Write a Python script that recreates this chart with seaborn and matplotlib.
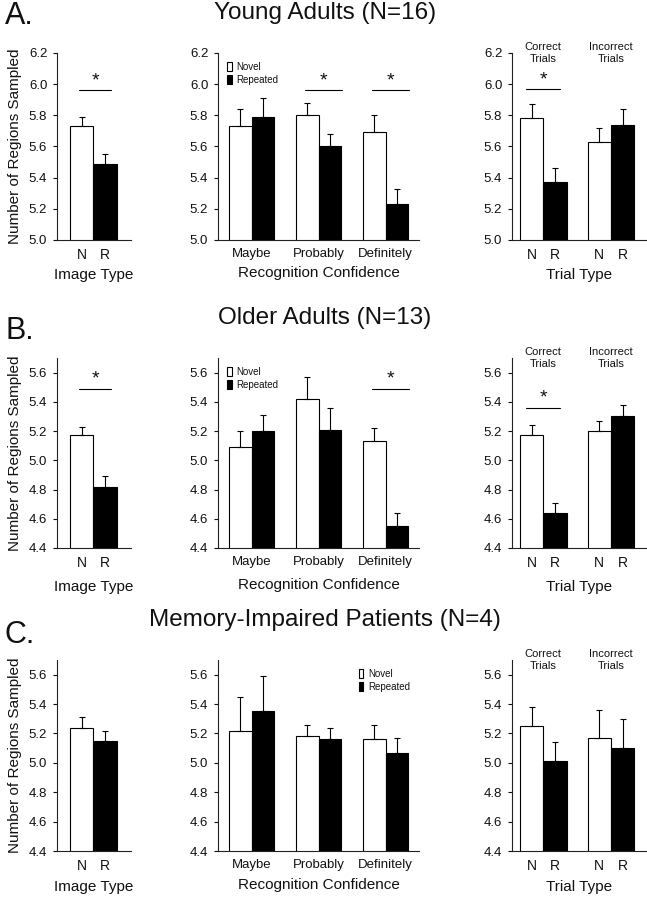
import matplotlib
matplotlib.use('Agg')
import matplotlib.pyplot as plt
from matplotlib.container import BarContainer
from matplotlib.patches import Patch
import pandas as pd
import seaborn as sns

# ---- data (means and upward SEM) ----
row_titles = ['Young Adults (N=16)', 'Older Adults (N=13)', 'Memory-Impaired Patients (N=4)']
row_letters = ['A.', 'B.', 'C.']
row_ylims = [(5.0, 6.2), (4.4, 5.7), (4.4, 5.7)]
row_yticks = [[5.0, 5.2, 5.4, 5.6, 5.8, 6.0, 6.2],
              [4.4, 4.6, 4.8, 5.0, 5.2, 5.4, 5.6],
              [4.4, 4.6, 4.8, 5.0, 5.2, 5.4, 5.6]]

image_types = ['N', 'R']
image_mean = [[5.73, 5.49], [5.17, 4.82], [5.24, 5.15]]
image_sem = [[0.06, 0.06], [0.06, 0.07], [0.07, 0.07]]
image_sig = [True, True, False]

confidence = ['Maybe', 'Probably', 'Definitely']
conf_novel = [[5.73, 5.80, 5.69], [5.09, 5.42, 5.13], [5.22, 5.18, 5.16]]
conf_novel_sem = [[0.11, 0.08, 0.11], [0.11, 0.15, 0.09], [0.23, 0.08, 0.10]]
conf_repeated = [[5.79, 5.60, 5.23], [5.20, 5.21, 4.55], [5.35, 5.16, 5.07]]
conf_repeated_sem = [[0.12, 0.08, 0.10], [0.11, 0.15, 0.09], [0.24, 0.08, 0.10]]
conf_sig = [[False, True, True], [False, False, True], [False, False, False]]

trials = ['Correct\nTrials', 'Incorrect\nTrials']
trial_novel = [[5.78, 5.63], [5.17, 5.20], [5.25, 5.17]]
trial_novel_sem = [[0.09, 0.09], [0.07, 0.07], [0.13, 0.19]]
trial_repeated = [[5.37, 5.74], [4.64, 5.30], [5.01, 5.10]]
trial_repeated_sem = [[0.09, 0.10], [0.07, 0.08], [0.13, 0.20]]
trial_sig = [[True, False], [True, False], [False, False]]

sig_height = [5.96, 5.49, None]
trial_sig_height = [5.97, 5.36, None]
legend_loc = ['upper left', 'upper left', 'upper right']

# ---- style ----
sns.set_style('ticks')
plt.rcParams['font.family'] = ['Liberation Sans', 'DejaVu Sans']
plt.rcParams['text.color'] = '#111111'
plt.rcParams['axes.labelcolor'] = '#111111'
plt.rcParams['xtick.color'] = '#111111'
plt.rcParams['ytick.color'] = '#111111'

W, H = 647, 899
fig = plt.figure(figsize=(W / 100, H / 100), dpi=100)
palette = {'N': 'white', 'R': 'black', 'Novel': 'white', 'Repeated': 'black'}


def box(x0, x1, ytop, ybot):
    return [x0 / W, 1 - ybot / H, (x1 - x0) / W, (ybot - ytop) / H]


def bar_containers(ax):
    return [c for c in ax.containers if isinstance(c, BarContainer)]


def add_errorbars(ax, sems):
    # bar containers come in hue order, one per hue level
    for cont, s in zip(bar_containers(ax), sems):
        xs = [b.get_x() + b.get_width() / 2 for b in cont]
        ys = [b.get_height() for b in cont]
        ax.errorbar(xs, ys, yerr=[[0] * len(s), s], fmt='none', ecolor='black',
                    elinewidth=0.8, capsize=2.5, capthick=0.8, zorder=1)


def sig_mark(ax, x_left, x_right, y):
    ax.plot([x_left, x_right], [y, y], color='black', lw=0.8, clip_on=False)
    ax.text((x_left + x_right) / 2, y + 0.005, '*', ha='center', va='bottom',
            fontsize=14, clip_on=False)


def style_axes(ax, r):
    ax.set_ylim(*row_ylims[r])
    ax.set_yticks(row_yticks[r])
    ax.set_yticklabels([f'{t:.1f}' for t in row_yticks[r]], fontsize=9.5)
    sns.despine(ax=ax)
    for sp in ['left', 'bottom']:
        ax.spines[sp].set_linewidth(0.8)
        ax.spines[sp].set_color('#222222')
    ax.tick_params(axis='y', length=3, width=0.8, pad=4)
    ax.tick_params(axis='x', length=0, pad=6)
    ax.set_facecolor('white')


# row geometry in pixels: (top of axis, bottom of axis)
rows_px = [(53, 240), (358, 548), (660, 851)]
title_y = [13, 318, 620]
letter_y = [16, 331, 635]
xlabel_pad = [4, 7, 5]

for r in range(3):
    ytop, ybot = rows_px[r]

    # --- Image type panel ---
    ax1 = fig.add_axes(box(57, 131, ytop, ybot))
    df1 = pd.DataFrame({'type': image_types, 'mean': image_mean[r]})
    sns.barplot(data=df1, x='type', y='mean', hue='type', palette=palette,
                edgecolor='black', linewidth=0.8, width=1.0, errorbar=None,
                legend=False, ax=ax1)
    add_errorbars(ax1, [[s] for s in image_sem[r]])
    ax1.set_xlim(-1.05, 2.1)
    style_axes(ax1, r)
    ax1.set_xticks([0, 1])
    ax1.set_xticklabels(image_types, fontsize=10)
    ax1.set_xlabel('Image Type', fontsize=11, labelpad=xlabel_pad[r])
    ax1.set_ylabel('Number of Regions Sampled', fontsize=11, labelpad=5)
    if image_sig[r]:
        sig_mark(ax1, -0.1, 1.25, sig_height[r])

    # --- Recognition confidence panel ---
    ax2 = fig.add_axes(box(218, 419, ytop, ybot))
    df2 = pd.DataFrame({
        'conf': confidence * 2,
        'type': ['Novel'] * 3 + ['Repeated'] * 3,
        'mean': conf_novel[r] + conf_repeated[r],
    })
    sns.barplot(data=df2, x='conf', y='mean', hue='type', palette=palette,
                edgecolor='black', linewidth=0.8, width=0.667, errorbar=None,
                legend=False, ax=ax2)
    add_errorbars(ax2, [conf_novel_sem[r], conf_repeated_sem[r]])
    ax2.set_xlim(-0.5, 2.5)
    style_axes(ax2, r)
    ax2.set_xticks(range(3))
    ax2.set_xticklabels(confidence, fontsize=9.5)
    ax2.set_xlabel('Recognition Confidence', fontsize=11, labelpad=xlabel_pad[r])
    ax2.set_ylabel('')
    for i, s in enumerate(conf_sig[r]):
        if s:
            sig_mark(ax2, i - 0.2, i + 0.35, sig_height[r])
    handles = [Patch(facecolor='white', edgecolor='black', linewidth=0.8, label='Novel'),
               Patch(facecolor='black', edgecolor='black', linewidth=0.8, label='Repeated')]
    ax2.legend(handles=handles, loc=legend_loc[r], fontsize=7, frameon=False,
               handlelength=0.5, handleheight=1.1, handletextpad=0.5,
               labelspacing=0.3, borderaxespad=0.5)

    # --- Trial type panel ---
    ax3 = fig.add_axes(box(512, 647, ytop, ybot))
    df3 = pd.DataFrame({
        'trial': trials * 2,
        'type': ['N'] * 2 + ['R'] * 2,
        'mean': trial_novel[r] + trial_repeated[r],
    })
    sns.barplot(data=df3, x='trial', y='mean', hue='type', palette=palette,
                edgecolor='black', linewidth=0.8, width=0.69, errorbar=None,
                legend=False, ax=ax3)
    centers = sorted(b.get_x() + b.get_width() / 2
                     for c in bar_containers(ax3) for b in c)
    add_errorbars(ax3, [trial_novel_sem[r], trial_repeated_sem[r]])
    ax3.set_xlim(-0.46, 1.53)
    style_axes(ax3, r)
    ax3.set_xticks(centers)
    ax3.set_xticklabels(['N', 'R', 'N', 'R'], fontsize=10)
    ax3.set_xlabel('Trial Type', fontsize=11, labelpad=xlabel_pad[r])
    ax3.set_ylabel('')
    for i, t in enumerate(trials):
        ax3.text(i, 1.0, t, transform=ax3.get_xaxis_transform(), ha='center',
                 va='center', fontsize=8, linespacing=1.35)
    for i, s in enumerate(trial_sig[r]):
        if s:
            sig_mark(ax3, i - 0.25, i + 0.25, trial_sig_height[r])

    fig.text(325 / W, 1 - title_y[r] / H, row_titles[r], ha='center', va='center',
             fontsize=17.5)
    fig.text(5 / W, 1 - letter_y[r] / H, row_letters[r], ha='left', va='center',
             fontsize=22)

fig.savefig('out.png', dpi=100, facecolor='white')
